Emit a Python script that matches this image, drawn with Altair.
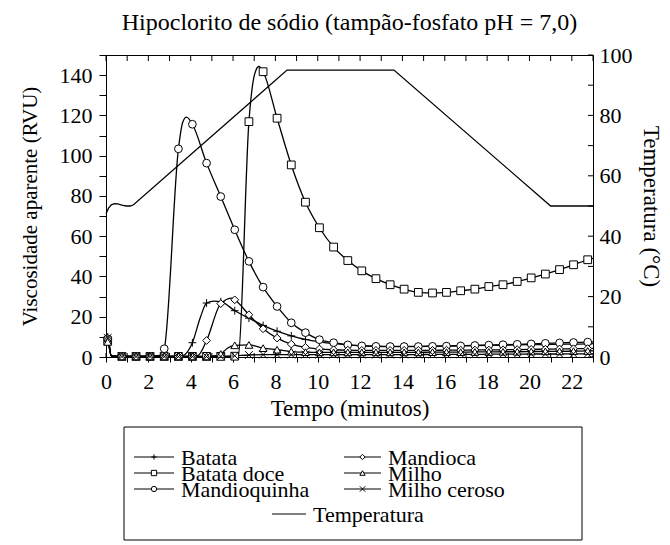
import altair as alt
import pandas as pd

TITLE = "Hipoclorito de sódio (tampão-fosfato pH = 7,0)"
X_TITLE = "Tempo (minutos)"
Y_TITLE = "Viscosidade aparente (RVU)"
Y2_TITLE = "Temperatura (°C)"
FONT = "Liberation Serif"

SERIES = ["Batata", "Batata doce", "Mandioquinha", "Mandioca", "Milho", "Milho ceroso"]
TEMP_NAME = "Temperatura"

# marker sampling times (minutes)
MARK_T = [0.08, 0.75, 1.42, 2.08, 2.75, 3.42, 4.08, 4.75, 5.42, 6.08, 6.75, 7.42,
          8.08, 8.75, 9.42, 10.08, 10.75, 11.42, 12.08, 12.75, 13.42, 14.08, 14.75,
          15.42, 16.08, 16.75, 17.42, 18.08, 18.75, 19.42, 20.08, 20.75, 21.42,
          22.08, 22.75]

BATATA_T = [0.0, 0.08, 0.25, 0.75, 1.42, 2.08, 2.75, 3.42, 3.65, 4.08, 4.45, 4.75, 5.1, 5.42,
            6.08, 6.75, 7.42, 8.08, 8.75, 9.42, 10.08, 10.75, 11.42, 12.08, 12.75, 13.42,
            14.08, 14.75, 15.42, 16.08, 16.75, 17.42, 18.08, 18.75, 19.42, 20.08, 20.75,
            21.42, 22.08, 22.75, 23.0]
BATATA_V = [10.0, 10.0, 0.6, 0.3, 0.3, 0.3, 0.3, 0.4, 0.8, 7.1, 19.5, 26.8, 27.8, 27.5,
            23.0, 19.3, 15.7, 12.8, 10.5, 8.7, 7.5, 6.6, 6.0, 5.6, 5.4, 5.3,
            5.3, 5.3, 5.4, 5.5, 5.6, 5.7, 5.8, 5.9, 6.0, 6.1, 6.2,
            6.3, 6.4, 6.5, 6.6]

BATATA_DOCE_T = [0.0, 0.08, 0.25, 0.75, 1.42, 2.08, 2.75, 3.42, 4.08, 4.75, 5.42, 6.08, 6.25,
                 6.75, 7.02, 7.22, 7.42, 8.08, 8.75, 9.42, 10.08, 10.75, 11.42, 12.08, 12.75,
                 13.42, 14.08, 14.75, 15.42, 16.08, 16.75, 17.42, 18.08, 18.75, 19.42, 20.08,
                 20.75, 21.42, 22.08, 22.75, 23.0]
BATATA_DOCE_V = [8.0, 8.0, 0.6, 0.3, 0.3, 0.3, 0.3, 0.3, 0.3, 0.3, 0.3, 0.4, 1.0,
                 116.9, 140.5, 144.3, 141.7, 118.6, 95.4, 76.9, 64.2, 54.6, 47.9, 42.8, 38.9,
                 35.9, 33.7, 32.1, 31.8, 32.1, 32.9, 33.7, 35.0, 35.9, 37.5, 39.3,
                 41.2, 43.4, 45.8, 48.3, 49.0]

MANDIOQUINHA_T = [0.0, 0.08, 0.25, 0.75, 1.42, 2.08, 2.55, 2.75, 3.42, 3.62, 3.8, 4.08, 4.75,
                  5.42, 6.08, 6.75, 7.42, 8.08, 8.75, 9.42, 10.08, 10.75, 11.42, 12.08, 12.75,
                  13.42, 14.08, 14.75, 15.42, 16.08, 16.75, 17.42, 18.08, 18.75, 19.42, 20.08,
                  20.75, 21.42, 22.08, 22.75, 23.0]
MANDIOQUINHA_V = [9.0, 9.0, 0.6, 0.4, 0.4, 0.4, 0.8, 4.1, 103.4, 116.5, 119.1, 115.6, 96.3,
                  79.7, 63.2, 47.5, 34.7, 25.1, 17.0, 12.1, 8.6, 7.1, 6.0, 5.5, 5.3,
                  5.2, 5.2, 5.2, 5.3, 5.4, 5.5, 5.7, 5.9, 6.1, 6.3, 6.5,
                  6.8, 7.0, 7.2, 7.4, 7.5]

MANDIOCA_T = [0.0, 0.08, 0.25, 0.75, 1.42, 2.08, 2.75, 3.42, 4.08, 4.35, 4.75, 5.42, 5.95,
              6.08, 6.75, 7.42, 8.08, 8.75, 9.42, 10.08, 10.75, 11.42, 12.08, 12.75, 13.42,
              14.08, 14.75, 15.42, 16.08, 16.75, 17.42, 18.08, 18.75, 19.42, 20.08, 20.75,
              21.42, 22.08, 22.75, 23.0]
MANDIOCA_V = [8.5, 8.5, 0.6, 0.3, 0.3, 0.3, 0.3, 0.3, 0.4, 0.8, 8.2, 26.5, 29.2,
              28.4, 21.0, 14.0, 9.4, 6.4, 4.8, 4.0, 3.6, 3.4, 3.3, 3.3, 3.3,
              3.3, 3.3, 3.3, 3.4, 3.4, 3.5, 3.5, 3.6, 3.7, 3.8, 3.9,
              4.0, 4.1, 4.2, 4.3]

MILHO_T = [0.0, 0.08, 0.25, 0.75, 1.42, 2.08, 2.75, 3.42, 4.08, 4.75, 5.1, 5.42, 5.75, 6.08,
           6.75, 7.42, 8.08, 8.75, 9.42, 10.08, 10.75, 11.42, 12.08, 12.75, 13.42, 14.08,
           14.75, 15.42, 16.08, 16.75, 17.42, 18.08, 18.75, 19.42, 20.08, 20.75, 21.42,
           22.08, 22.75, 23.0]
MILHO_V = [7.5, 7.5, 0.6, 0.3, 0.3, 0.3, 0.3, 0.3, 0.3, 0.3, 0.5, 1.5, 4.5, 5.8,
           6.0, 4.4, 3.6, 2.7, 2.4, 2.3, 2.3, 2.3, 2.3, 2.3, 2.3, 2.3,
           2.3, 2.4, 2.4, 2.4, 2.5, 2.5, 2.6, 2.6, 2.7, 2.8, 2.8,
           2.9, 3.0, 3.0]

MILHO_CEROSO_T = [0.0, 0.08, 0.25, 0.75, 1.42, 2.08, 2.75, 3.42, 4.08, 4.75, 5.42, 6.08, 6.75,
                  7.42, 8.08, 8.75, 9.42, 10.08, 10.75, 11.42, 12.08, 12.75, 13.42, 14.08,
                  14.75, 15.42, 16.08, 16.75, 17.42, 18.08, 18.75, 19.42, 20.08, 20.75, 21.42,
                  22.08, 22.75, 23.0]
MILHO_CEROSO_V = [9.5, 9.5, 0.6, 0.2, 0.2, 0.2, 0.2, 0.2, 0.2, 0.2, 0.3, 0.6, 1.0,
                  1.2, 1.2, 1.2, 1.2, 1.2, 1.2, 1.2, 1.2, 1.2, 1.2, 1.2,
                  1.2, 1.3, 1.3, 1.3, 1.3, 1.4, 1.4, 1.4, 1.5, 1.5, 1.5,
                  1.6, 1.6, 1.6]

TEMP_T = [0.0, 0.12, 0.25, 0.4, 0.55, 0.75, 0.95, 1.15, 1.3, 8.55, 13.6, 21.0, 23.0]
TEMP_V = [47.4, 49.3, 50.4, 50.8, 50.7, 50.3, 50.0, 50.0, 50.4, 95.0, 95.0, 50.0, 50.0]

X_TICKS = list(range(0, 24))
Y_TICKS = list(range(0, 151, 10))
Y2_LABELS = list(range(0, 101, 20))
Y2_TICKS = list(range(0, 101, 10))

PLUS = "M-1,0L1,0M0,-1L0,1"
XMARK = "M-1,-1L1,1M-1,1L1,-1"
SHAPES = [PLUS, "square", "circle", "diamond", "triangle-up", XMARK]

# legend layout (column, row) for each entry
LEG_NAMES = SERIES + [TEMP_NAME]
LEG_COL = [0, 0, 0, 1, 1, 1, 2]
LEG_ROW = [0, 1, 2, 0, 1, 2, 3]

W, H = 487, 302
LW, LH = 487, 113

# ---------- data tables ----------
ALL_T = [BATATA_T, BATATA_DOCE_T, MANDIOQUINHA_T, MANDIOCA_T, MILHO_T, MILHO_CEROSO_T]
ALL_V = [BATATA_V, BATATA_DOCE_V, MANDIOQUINHA_V, MANDIOCA_V, MILHO_V, MILHO_CEROSO_V]
mark_set = set(round(t, 2) for t in MARK_T)
rows = []
for name, ts, vs in zip(SERIES, ALL_T, ALL_V):
    assert len(ts) == len(vs), name
    for t, v in zip(ts, vs):
        rows.append({"series": name, "t": t, "v": v, "mk": round(t, 2) in mark_set})
df = pd.DataFrame(rows)
temp_df = pd.DataFrame({"t": TEMP_T, "T": TEMP_V})
xt_df = pd.DataFrame({"t": X_TICKS})
y2t_df = pd.DataFrame({"T": Y2_TICKS})

xscale = alt.Scale(domain=[0, 23], nice=False, zero=False)
vscale = alt.Scale(domain=[0, 150], nice=False)
tscale = alt.Scale(domain=[0, 100], nice=False)
x_axis = alt.Axis(
    values=X_TICKS, labelExpr="datum.value % 2 == 0 ? datum.label : ''",
    tickSize=5, labelPadding=9, title=X_TITLE, titlePadding=5, labelFlush=False,
    labelOverlap=False, labelFontSize=22, titleFontSize=23)
x_enc = alt.X("t:Q", scale=xscale, axis=x_axis)

lines = alt.Chart(df).mark_line(color="black", strokeWidth=1.3, interpolate="monotone").encode(
    x=x_enc,
    y=alt.Y("v:Q", scale=vscale, axis=alt.Axis(
        orient="left", values=Y_TICKS, labelExpr="datum.value % 20 == 0 ? datum.label : ''",
        tickSize=7, labelPadding=7, title=Y_TITLE, titlePadding=19, labelOverlap=False,
        labelFontSize=22, titleFontSize=21)),
    detail="series:N",
)

points = alt.Chart(df).transform_filter("datum.mk").mark_point(
    filled=True, fill="white", stroke="black", strokeWidth=1, size=60, opacity=1
).encode(
    x=x_enc,
    y=alt.Y("v:Q", scale=vscale, axis=None),
    shape=alt.Shape("series:N", scale=alt.Scale(domain=SERIES, range=SHAPES), legend=None),
)

temp = alt.Chart(temp_df).mark_line(color="black", strokeWidth=1.3).encode(
    x=x_enc,
    y=alt.Y("T:Q", scale=tscale, axis=alt.Axis(
        orient="right", values=Y2_LABELS, ticks=False, tickSize=0, labelPadding=6,
        title=Y2_TITLE, titlePadding=6, labelOverlap=False,
        labelFontSize=22, titleFontSize=23)),
)

top_ticks = alt.Chart(xt_df).mark_rule(color="black", strokeWidth=1).encode(
    x=x_enc, y=alt.value(0), y2=alt.value(6))
bottom_ticks = alt.Chart(xt_df).mark_rule(color="black", strokeWidth=1).encode(
    x=x_enc, y=alt.value(H - 4), y2=alt.value(H))
right_ticks = alt.Chart(y2t_df).mark_rule(color="black", strokeWidth=1).encode(
    y=alt.Y("T:Q", scale=tscale, axis=None), x=alt.value(W - 5), x2=alt.value(W))

main = alt.layer(lines, points, temp, top_ticks, bottom_ticks, right_ticks).resolve_scale(
    y="independent"
).properties(
    width=W, height=H,
    title=alt.TitleParams(TITLE, frame="group", anchor="middle", offset=9),
)

# ---------- legend ----------
COL_X0 = {0: 28, 1: 238, 2: 166}
COL_X1 = {0: 68, 1: 275, 2: 200}
ROW_Y = {0: 30, 1: 46, 2: 62, 3: 87}
leg_df = pd.DataFrame({
    "name": LEG_NAMES,
    "x0": [COL_X0[c] for c in LEG_COL],
    "x1": [COL_X1[c] for c in LEG_COL],
    "y": [ROW_Y[r] for r in LEG_ROW],
    "kind": ["s"] * len(SERIES) + ["t"],
})
leg_df["xm"] = (leg_df["x0"] + leg_df["x1"]) / 2
leg_df["xt"] = leg_df["x1"] + 7

lxs = alt.Scale(domain=[0, LW], nice=False, zero=False)
lys = alt.Scale(domain=[0, LH], nice=False, zero=False, reverse=True)

leg_lines = alt.Chart(leg_df).mark_rule(color="black", strokeWidth=1.2).encode(
    x=alt.X("x0:Q", scale=lxs, axis=None), x2="x1:Q",
    y=alt.Y("y:Q", scale=lys, axis=None))
leg_pts = alt.Chart(leg_df).transform_filter("datum.kind == 's'").mark_point(
    filled=True, fill="white", stroke="black", strokeWidth=1, size=28, opacity=1
).encode(
    x=alt.X("xm:Q", scale=lxs, axis=None),
    y=alt.Y("y:Q", scale=lys, axis=None),
    shape=alt.Shape("name:N", scale=alt.Scale(domain=SERIES, range=SHAPES), legend=None))
leg_text = alt.Chart(leg_df).mark_text(
    align="left", baseline="middle", font=FONT, fontSize=22, color="black", dy=1
).encode(
    x=alt.X("xt:Q", scale=lxs, axis=None),
    y=alt.Y("y:Q", scale=lys, axis=None),
    text="name:N")
leg_box = alt.Chart(pd.DataFrame({"a": [0]})).mark_rect(
    fillOpacity=0, stroke="black", strokeWidth=1
).encode(x=alt.value(18), x2=alt.value(476), y=alt.value(0), y2=alt.value(LH))

legend = alt.layer(leg_box, leg_lines, leg_pts, leg_text).properties(
    width=LW, height=LH, view=alt.ViewBackground(strokeOpacity=0))

chart = alt.vconcat(main, legend, spacing=70, bounds="flush").properties(
    padding={"left": 10, "top": 2, "right": 0, "bottom": 0}
).configure_view(
    stroke="black", strokeWidth=1
).configure_axis(
    labelFont=FONT, titleFont=FONT, labelFontSize=22, titleFontSize=22,
    titleFontWeight="normal", labelColor="black", titleColor="black",
    domainColor="black", tickColor="black", grid=False
).configure_title(
    font=FONT, fontSize=24, fontWeight="normal", color="black"
)

chart.save("out.html", embed_options={"renderer": "svg", "actions": False})
